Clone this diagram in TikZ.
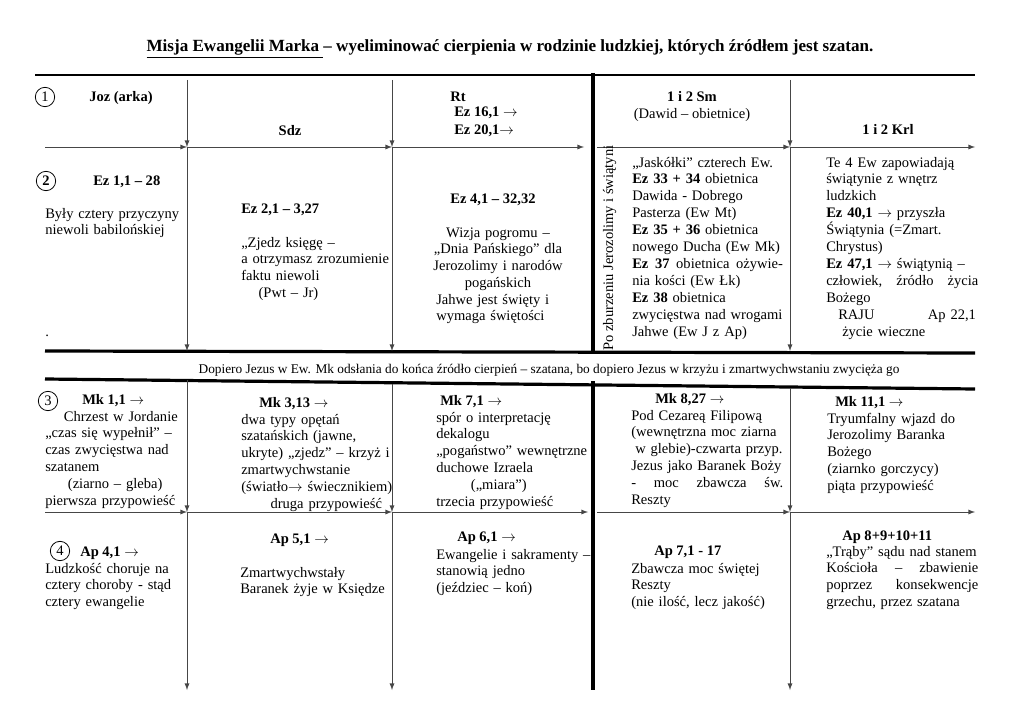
\documentclass[tikz,border=0pt]{standalone}
\usepackage{fontspec}
\setmainfont{Liberation Serif}
\usepackage{xcolor}
\usepackage{tikz}
\usetikzlibrary{positioning}
\definecolor{linegray}{RGB}{70,70,70}
\newcommand{\ar}{\ensuremath{\rightarrow}}

\begin{document}
\begin{tikzpicture}[x=0.75pt, y=-0.75pt, every node/.style={font=\fontsize{10.9}{12.7}\selectfont, inner sep=0pt}]
  \tikzstyle{txt}=[anchor=base west, align=left, text width=130pt]
  \tikzstyle{hd}=[anchor=base west, font=\fontsize{10.9}{12.7}\selectfont\bfseries]
  \tikzstyle{hdc}=[anchor=base, font=\fontsize{10.9}{12.7}\selectfont\bfseries]
  \tikzstyle{num}=[circle, draw, line width=0.6pt, minimum size=14.5pt]
  \tikzstyle{grid}=[-latex, linegray, line width=0.7pt]
  \tikzstyle{bar}=[line width=3.6pt]
  \useasboundingbox (0,0) rectangle (1024,724);

  % title
  \node[anchor=base, font=\fontsize{12.8}{15}\selectfont\bfseries] (title) at (510,52)
    {\underline{Misja Ewangelii Marka }– wyeliminować cierpienia w rodzinie ludzkiej, których źródłem jest szatan.};

  % grid points
  \coordinate (ra) at (35,75);   \coordinate (rf) at (975,75);
  \coordinate (t1b) at (187,80); \coordinate (t1c) at (392,80); \coordinate (t1e) at (790,80);
  \coordinate (h1a) at (45,147); \coordinate (h1b) at (187,147); \coordinate (h1c) at (392,147);
  \coordinate (h1dl) at (584,147); \coordinate (h1dr) at (597,147);
  \coordinate (h1e) at (790,147); \coordinate (h1f) at (975,147);
  \coordinate (b2b) at (187,351); \coordinate (b2c) at (392,351); \coordinate (b2e) at (790,351);
  \coordinate (m1a) at (45,351); \coordinate (m1f) at (975,353);
  \coordinate (m2a) at (45,379); \coordinate (m2f) at (975,389);
  \coordinate (t3b) at (187,380); \coordinate (t3c) at (392,384); \coordinate (t3e) at (790,388);
  \coordinate (h3a) at (45,512); \coordinate (h3b) at (187,512); \coordinate (h3c) at (392,512);
  \coordinate (h3dl) at (588,512); \coordinate (h3dr) at (597,512);
  \coordinate (h3e) at (790,512); \coordinate (h3f) at (975,512);
  \coordinate (b4b) at (187,690); \coordinate (b4c) at (392,690); \coordinate (b4e) at (790,690);
  \coordinate (d1) at (593,73); \coordinate (d2) at (593,352);
  \coordinate (d3) at (593,381); \coordinate (d4) at (593,690);

  % rules
  \draw[line width=1pt] (ra) -- (rf);
  \draw[line width=2.4pt] (m1a) -- (m1f);
  \draw[line width=2.4pt] (m2a) -- (m2f);
  \draw[bar] (d1) -- (d2);
  \draw[bar] (d3) -- (d4);

  % row 1 / 2 arrows
  \draw[grid] (t1b) -- (h1b);
  \draw[grid] (t1c) -- (h1c);
  \draw[grid] (t1e) -- (h1e);
  \draw[grid] (h1a) -- (h1b);
  \draw[grid] (h1b) -- (h1c);
  \draw[grid] (h1c) -- (h1dl);
  \draw[grid] (h1dr) -- (h1e);
  \draw[grid] (h1e) -- (h1f);
  \draw[grid] (h1b) -- (b2b);
  \draw[grid] (h1c) -- (b2c);
  \draw[grid] (h1e) -- (b2e);

  % row 3 / 4 arrows
  \draw[grid] (t3b) -- (h3b);
  \draw[grid] (t3c) -- (h3c);
  \draw[grid] (t3e) -- (h3e);
  \draw[grid] (h3a) -- (h3b);
  \draw[grid] (h3b) -- (h3c);
  \draw[grid] (h3c) -- (h3dl);
  \draw[grid] (h3dr) -- (h3e);
  \draw[grid] (h3e) -- (h3f);
  \draw[grid] (h3b) -- (b4b);
  \draw[grid] (h3c) -- (b4c);
  \draw[grid] (h3e) -- (b4e);

  % numbers
  \node[num] (n1) at (45,97) {1};
  \node[num] (n2) at (46,181) {\textbf{2}};
  \node[num] (n3) at (48,401) {3};
  \node[num] (n4) at (60,551) {4};

  % row 1
  \node[hd] (joz) at (89,101) {Joz (arka)};
  \node[hdc] (sdz) at (290,135) {Sdz};
  \node[hd] (rt) at (450,101) {Rt};
  \node[hd] (ez16) at (454,117) {Ez 16,1 \ar};
  \node[hd] (ez20) at (454,134) {Ez 20,1\ar};
  \node[hdc] (sm) at (692,101) {1 i 2 Sm};
  \node[anchor=base] (dawid) at (692,118) {(Dawid – obietnice)};
  \node[hdc] (krl) at (888,134) {1 i 2 Krl};

  % row 2
  \node[hd] (ez1) at (93,185) {Ez 1,1 – 28};
  \node[txt] (byly) at (45,218) {Były cztery przyczyny\\niewoli babilońskiej};
  \node[anchor=base west] (dot) at (45,336) {.};
  \node[hd] (ez2) at (241,213) {Ez 2,1 – 3,27};
  \node[txt] (zjedz) at (241,247) {„Zjedz księgę –\\a otrzymasz zrozumienie\\faktu niewoli\\\hspace*{13pt}(Pwt – Jr)};
  \node[hdc] (ez4) at (493,203) {Ez 4,1 – 32,32};
  \node[anchor=base, align=center, text width=130pt] (wizja) at (498,237) {Wizja pogromu –\\„Dnia Pańskiego” dla\\Jerozolimy i narodów\\pogańskich};
  \node[txt] (jahwe) at (436,304) {Jahwe jest święty i\\wymaga świętości};
  \node[rotate=90, anchor=base] (zburz) at (613,248) {Po zburzeniu Jerozolimy i świątyni};
  \node[txt] (jask) at (632,167) {„Jaskółki” czterech Ew.\\
    \textbf{Ez 33 + 34} obietnica\\Dawida - Dobrego\\Pasterza (Ew Mt)\\
    \textbf{Ez 35 + 36} obietnica\\nowego Ducha (Ew Mk)\\
    \makebox[113pt]{\textbf{Ez\hfill 37}\hfill obietnica\hfill ożywie-}\\nia kości (Ew Łk)\\
    \textbf{Ez 38} obietnica\\zwycięstwa nad wrogami\\Jahwe (Ew J z Ap)};
  \node[txt] (te4) at (826,167) {Te 4 Ew zapowiadają\\świątynie z wnętrz\\ludzkich\\
    \textbf{Ez 40,1 \ar} przyszła\\Świątynia (=Zmart.\\Chrystus)\\
    \textbf{Ez 47,1 \ar} świątynią –\\\makebox[114pt]{człowiek,\hfill źródło\hfill życia}\\Bożego\\
    \hspace*{9pt}RAJU\hspace{40pt}Ap 22,1\\\hspace*{12pt}życie wieczne};

  % middle line
  \node[anchor=base, font=\fontsize{10}{12}\selectfont] (dopiero) at (549,373) {Dopiero Jezus w Ew. Mk odsłania do końca źródło cierpień – szatana, bo dopiero Jezus w krzyżu i zmartwychwstaniu zwycięża go};

  % row 3
  \node[hd] (mk1) at (82,404) {Mk 1,1 \ar};
  \node[txt] (chrzest) at (45,421) {\hspace*{14pt}Chrzest w Jordanie\\„czas się wypełnił” –\\czas zwycięstwa nad\\szatanem\\\hspace*{17pt}(ziarno – gleba)\\pierwsza przypowieść};
  \node[hd] (mk3) at (259,407) {Mk 3,13 \ar};
  \node[txt] (dwa) at (241,424) {dwa typy opętań\\szatańskich (jawne,\\ukryte) „zjedz” – krzyż i\\zmartwychwstanie\\(światło\ar{} świecznikiem)\\\hspace*{22pt}druga przypowieść};
  \node[hd] (mk7) at (440,405) {Mk 7,1 \ar};
  \node[txt] (spor) at (436,422) {spór o interpretację\\dekalogu\\„pogaństwo” wewnętrzne\\duchowe Izraela\\\hspace*{26pt}(„miara”)\\trzecia przypowieść};
  \node[hd] (mk8) at (655,403) {Mk 8,27 \ar};
  \node[txt] (cez) at (631,420) {Pod Cezareą Filipową\\(wewnętrzna moc ziarna\\\hspace*{3pt}w glebie)-czwarta przyp.\\Jezus jako Baranek Boży\\\makebox[114pt]{-\hfill moc\hfill zbawcza\hfill św.}\\Reszty};
  \node[hd] (mk11) at (835,406) {Mk 11,1 \ar};
  \node[txt] (tryum) at (827,423) {Tryumfalny wjazd do\\Jerozolimy Baranka\\Bożego\\(ziarnko gorczycy)\\piąta przypowieść};

  % row 4
  \node[hd] (ap4) at (80,556) {Ap 4,1 \ar};
  \node[txt] (ludz) at (45,573) {Ludzkość choruje na\\cztery choroby - stąd\\cztery ewangelie};
  \node[hd] (ap5) at (270,543) {Ap 5,1 \ar};
  \node[txt] (zmart) at (240,577) {Zmartwychwstały\\Baranek żyje w Księdze};
  \node[hd] (ap6) at (457,541) {Ap 6,1 \ar};
  \node[txt] (ewang) at (436,559) {Ewangelie i sakramenty –\\stanowią jedno\\(jeździec – koń)};
  \node[hd] (ap7) at (654,555) {Ap 7,1 - 17};
  \node[txt] (zbaw) at (631,573) {Zbawcza moc świętej\\Reszty\\(nie ilość, lecz jakość)};
  \node[hd] (ap8) at (842,540) {Ap 8+9+10+11};
  \node[txt] (traby) at (826,556) {„Trąby” sądu nad stanem\\\makebox[114pt]{Kościoła\hfill –\hfill zbawienie}\\\makebox[114pt]{poprzez\hfill konsekwencje}\\grzechu, przez szatana};
\end{tikzpicture}
\end{document}
